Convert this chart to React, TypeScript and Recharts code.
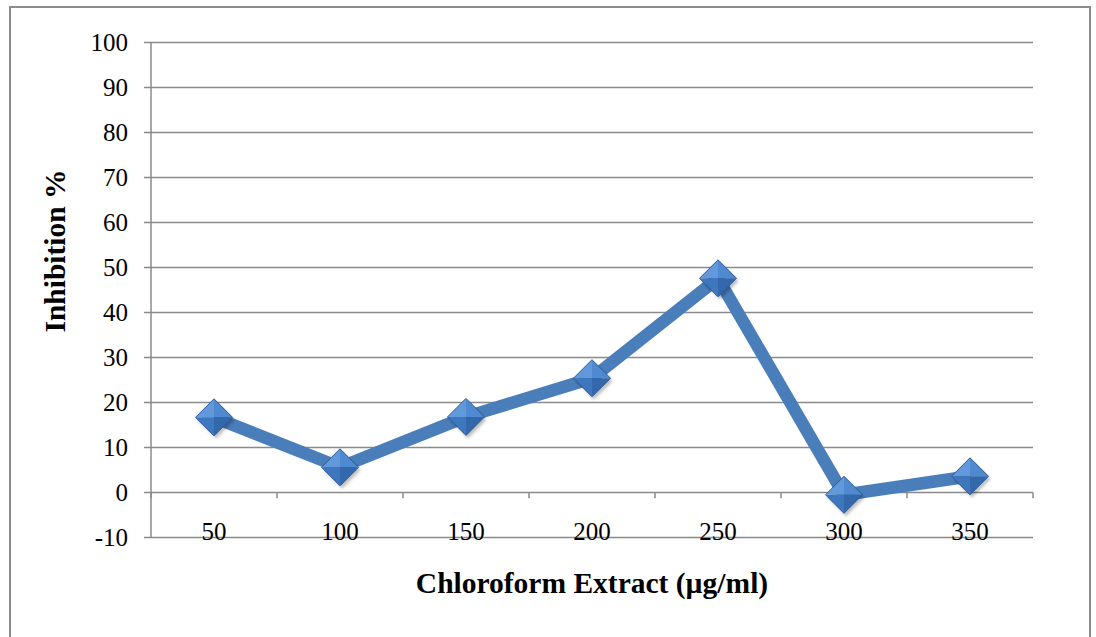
import { LineChart, Line, XAxis, YAxis, CartesianGrid, ReferenceLine } from 'recharts';

const concentrations = [50, 100, 150, 200, 250, 300, 350];
const inhibition = [16.7, 5.6, 16.8, 25.4, 47.6, -0.5, 3.6];
const yTicks = [-10, 0, 10, 20, 30, 40, 50, 60, 70, 80, 90, 100];
// category edges, where the small tick marks sit on the zero line
const xEdges = [25, 75, 125, 175, 225, 275, 325, 375];

const data = concentrations.map((conc, i) => ({ conc, value: inhibition[i] }));

const SERIF = '"Liberation Serif", "Times New Roman", serif';
const GRID = '#8a8a8a';

const DiamondDot = (props: any) => {
  const { cx, cy } = props;
  if (cx == null || cy == null) return null;
  const r = 18.5;
  const t = [cx, cy - r];
  const b = [cx, cy + r];
  const l = [cx - r, cy];
  const rt = [cx + r, cy];
  const c = [cx, cy];
  const pts = (...p: number[][]) => p.map(q => q.join(',')).join(' ');
  return (
    <g>
      <polygon points={pts([t[0] + 2, t[1] + 3], [rt[0] + 2, rt[1] + 3], [b[0] + 2, b[1] + 3], [l[0] + 2, l[1] + 3])}
        fill="#000" opacity={0.25} filter="url(#dotShadow)" />
      <polygon points={pts(t, c, l)} fill="#6199dc" />
      <polygon points={pts(t, rt, c)} fill="#4f8ad1" />
      <polygon points={pts(l, c, b)} fill="#3f77bf" />
      <polygon points={pts(c, rt, b)} fill="#3368ad" />
      <polygon points={pts(t, rt, b, l)} fill="none" stroke="#2d5b98" strokeWidth={1} />
    </g>
  );
};

const XTick = (props: any) => {
  const { x, y, payload } = props;
  return (
    <text x={x} y={y + 2} textAnchor="middle" fontFamily={SERIF} fontSize={25} fill="#000">
      {payload.value}
    </text>
  );
};

export default function App() {
  return (
    <div style={{ position: 'absolute', left: 0, top: 0, width: 1096, height: 637, background: '#fff' }}>
      <div style={{ position: 'absolute', left: 9, top: 6, width: 1082, height: 634, border: '2px solid #8c8c8c', boxSizing: 'border-box' }} />
      <div style={{ position: 'absolute', left: 0, top: 0 }}>
        <LineChart width={1096} height={637} data={data} margin={{ top: 42.5, right: 63, bottom: 69.5, left: 0 }}>
          <defs>
            <filter id="dotShadow" x="-50%" y="-50%" width="200%" height="200%">
              <feGaussianBlur stdDeviation="1.5" />
            </filter>
          </defs>
          <CartesianGrid vertical={false} stroke={GRID} strokeWidth={1.5} />
          <XAxis
            type="number"
            dataKey="conc"
            domain={[25, 375]}
            ticks={concentrations}
            height={30}
            axisLine={false}
            tickLine={false}
            tickSize={0}
            tickMargin={0}
            tick={<XTick />}
            interval={0}
            label={{
              content: () => (
                <text x={592} y={593} textAnchor="middle" fontFamily={SERIF} fontSize={29.5} fontWeight="bold" fill="#000">
                  Chloroform Extract (µg/ml)
                </text>
              ),
            }}
          />
          <YAxis
            width={151}
            domain={[-10, 100]}
            ticks={yTicks}
            interval={0}
            axisLine={{ stroke: GRID, strokeWidth: 1.5 }}
            tickLine={{ stroke: GRID, strokeWidth: 1.5 }}
            tickSize={7}
            tickMargin={16}
            tick={{ fontFamily: SERIF, fontSize: 25, fill: '#000' }}
            label={{
              content: () => (
                <text x={65} y={251} transform="rotate(-90 65 251)" textAnchor="middle" fontFamily={SERIF} fontSize={29.5} fontWeight="bold" fill="#000">
                  Inhibition %
                </text>
              ),
            }}
          />
          {xEdges.map(e => (
            <ReferenceLine key={e} segment={[{ x: e, y: 0 }, { x: e, y: -1.3 }]} stroke={GRID} strokeWidth={1.5} />
          ))}
          <Line
            type="linear"
            dataKey="value"
            stroke="#4a7ebb"
            strokeWidth={12.5}
            strokeLinejoin="round"
            dot={<DiamondDot />}
            activeDot={false}
            isAnimationActive={false}
          />
        </LineChart>
      </div>
    </div>
  );
}
